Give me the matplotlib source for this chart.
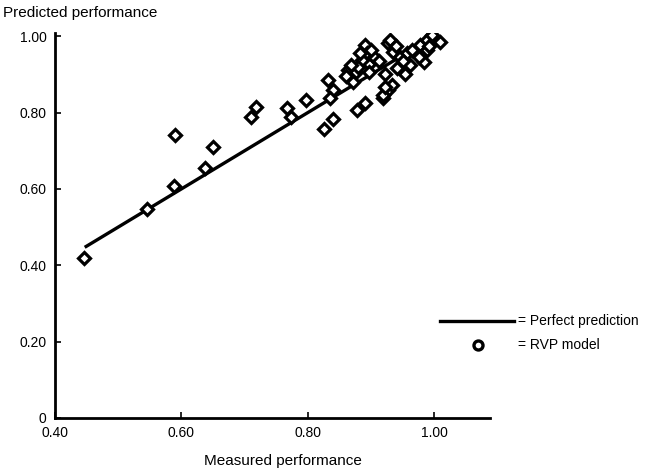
import matplotlib
matplotlib.use("Agg")
import matplotlib.pyplot as plt
from matplotlib.lines import Line2D

plt.rcParams['font.family'] = ['Liberation Sans', 'DejaVu Sans']

measured = [0.446, 0.546, 0.588, 0.590, 0.637, 0.650, 0.710, 0.718, 0.767, 0.774,
            0.797, 0.825, 0.839, 0.832, 0.840, 0.835, 0.878, 0.890, 0.919, 0.927,
            0.922, 0.927, 0.935, 0.864, 0.876, 0.871, 0.890, 0.893, 0.896, 0.904,
            0.885, 0.896, 0.941, 0.954, 0.962, 0.946, 0.956, 0.972, 0.978, 0.988,
            0.996, 1.009, 0.983, 0.988, 0.933, 0.919, 0.930, 0.922, 0.860, 0.880,
            0.868, 0.882, 0.900, 0.950, 0.965, 0.975, 0.992, 0.940, 0.912]
predicted = [0.419, 0.547, 0.607, 0.741, 0.654, 0.709, 0.788, 0.814, 0.813, 0.787,
             0.832, 0.758, 0.783, 0.885, 0.859, 0.839, 0.806, 0.824, 0.839, 0.859,
             0.902, 0.981, 0.959, 0.911, 0.907, 0.880, 0.976, 0.955, 0.928, 0.945,
             0.937, 0.907, 0.916, 0.902, 0.924, 0.945, 0.955, 0.955, 0.976, 0.990,
             1.003, 0.986, 0.933, 0.963, 0.872, 0.846, 0.990, 0.867, 0.895, 0.920,
             0.925, 0.955, 0.965, 0.935, 0.965, 0.945, 0.975, 0.975, 0.935]
perfect_x = [0.447, 1.0]
perfect_y = [0.447, 1.0]

xticks = [0.40, 0.60, 0.80, 1.00]
xtick_labels = ['0.40', '0.60', '0.80', '1.00']
yticks = [0, 0.20, 0.40, 0.60, 0.80, 1.00]
ytick_labels = ['0', '0.20', '0.40', '0.60', '0.80', '1.00']

fig = plt.figure(figsize=(6.66, 4.73), dpi=100)
ax = fig.add_axes([0.0826, 0.1163, 0.6531, 0.8137])

ax.plot(perfect_x, perfect_y, color='black', lw=2.4, solid_capstyle='butt', zorder=2)
ax.plot(measured, predicted, linestyle='none', marker='D', markersize=5.8,
        markerfacecolor='white', markeredgecolor='black', markeredgewidth=2.3, zorder=3)

ax.set_xlim(0.40, 1.088)
ax.set_ylim(0, 1.008)
ax.set_xticks(xticks)
ax.set_xticklabels(xtick_labels)
ax.set_yticks(yticks)
ax.set_yticklabels(ytick_labels)
ax.tick_params(direction='in', length=4, width=1.2, labelsize=10, colors='black')
ax.tick_params(axis='x', pad=6)
ax.tick_params(axis='y', pad=6)
for s in ['top', 'right']:
    ax.spines[s].set_visible(False)
for s in ['left', 'bottom']:
    ax.spines[s].set_linewidth(2.0)

fig.text(0.005, 0.972, 'Predicted performance', fontsize=11, ha='left', va='center')
fig.text(0.425, 0.025, 'Measured performance', fontsize=11, ha='center', va='center')

# legend drawn manually
y1 = 1 - 321 / 473
y2 = 1 - 345 / 473
fig.add_artist(Line2D([440 / 666, 514 / 666], [y1, y1], color='black', lw=2.4,
                      transform=fig.transFigure))
fig.add_artist(Line2D([478 / 666], [y2], linestyle='none', marker='o', markersize=6.5,
                      markerfacecolor='white', markeredgecolor='black', markeredgewidth=2.4,
                      transform=fig.transFigure))
fig.text(518 / 666, y1, '= Perfect prediction', fontsize=10, ha='left', va='center')
fig.text(518 / 666, y2, '= RVP model', fontsize=10, ha='left', va='center')

fig.savefig('out.png', dpi=100)
